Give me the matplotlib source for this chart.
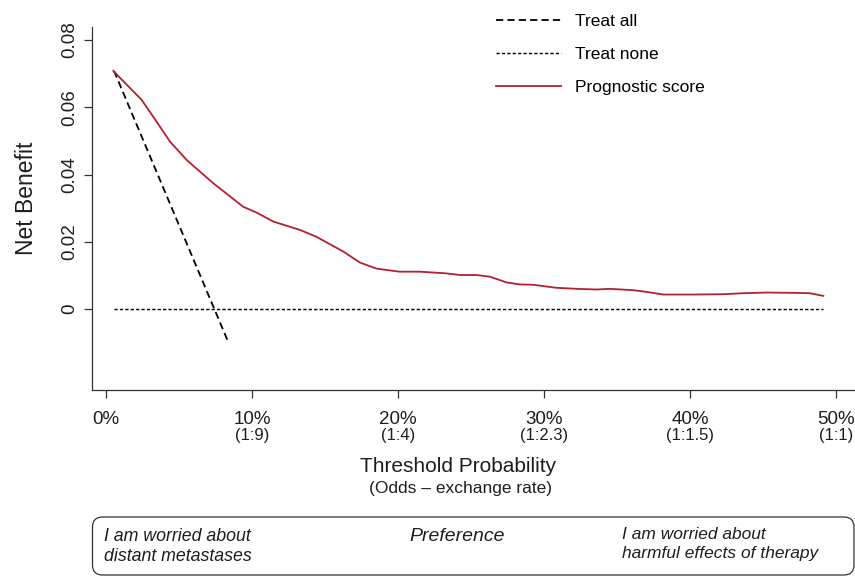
import matplotlib
matplotlib.use("Agg")
import matplotlib.pyplot as plt
from matplotlib.patches import FancyBboxPatch
from matplotlib.transforms import blended_transform_factory

# ---------------- data ----------------
score_threshold = [0.005, 0.0244, 0.0347, 0.0438, 0.0553, 0.0735, 0.094, 0.103, 0.1146,
                   0.133, 0.144, 0.1625, 0.174, 0.1854, 0.201, 0.215, 0.233, 0.2425,
                   0.254, 0.263, 0.2744, 0.2836, 0.2927, 0.3086, 0.3224, 0.336, 0.345,
                   0.361, 0.370, 0.3817, 0.402, 0.4228, 0.4365, 0.4525, 0.4707, 0.482, 0.4913]
score_nb = [0.0708, 0.0622, 0.0557, 0.0498, 0.0443, 0.0374, 0.0304, 0.0287, 0.0260,
            0.0235, 0.0215, 0.0171, 0.0138, 0.0120, 0.0111, 0.0111, 0.0106, 0.0101,
            0.0101, 0.0096, 0.0079, 0.0073, 0.0072, 0.0063, 0.0060, 0.0058, 0.0060,
            0.0056, 0.0051, 0.0043, 0.0043, 0.0044, 0.0047, 0.0049, 0.0048, 0.0047, 0.0039]
all_threshold = [0.0055, 0.084]
all_nb = [0.0708, -0.0101]
none_threshold = [0.0055, 0.491]
none_nb = [0.0, 0.0]

x_ticks = [0.0, 0.1, 0.2, 0.3, 0.4, 0.5]
x_tick_labels = ["0%", "10%", "20%", "30%", "40%", "50%"]
odds_labels = ["", "(1:9)", "(1:4)", "(1:2.3)", "(1:1.5)", "(1:1)"]
y_ticks = [0.0, 0.02, 0.04, 0.06, 0.08]
y_tick_labels = ["0", "0.02", "0.04", "0.06", "0.08"]
legend_labels = ["Treat all", "Treat none", "Prognostic score"]

# ---------------- figure ----------------
plt.rcParams['font.family'] = ['Liberation Sans', 'DejaVu Sans']
W, H, DPI = 855, 576, 100
fig = plt.figure(figsize=(W / DPI, H / DPI), dpi=DPI)

def fx(px):
    return px / W

def fy(py):
    return 1 - py / H

ax = fig.add_axes([fx(92), fy(390), (855 - 92) / W, (390 - 27) / H])
ax.set_xlim(-0.00959, 0.513)
ax.set_ylim(-0.02409, 0.08387)

red = "#B3202E"
ink = "#1e1e1e"
l_all, = ax.plot(all_threshold, all_nb, color="black", lw=1.3, dashes=(4.0, 2.3))
l_none, = ax.plot(none_threshold, none_nb, color="black", lw=1.05, dashes=(2.2, 1.5))
l_score, = ax.plot(score_threshold, score_nb, color=red, lw=1.3)

for s in ("top", "right"):
    ax.spines[s].set_visible(False)
for s in ("left", "bottom"):
    ax.spines[s].set_color("#333333")
    ax.spines[s].set_linewidth(0.9)

ax.set_xticks(x_ticks)
ax.set_xticklabels(x_tick_labels, fontsize=13.5, color=ink)
ax.set_yticks(y_ticks)
ax.set_yticklabels(y_tick_labels, fontsize=13.5, color=ink, rotation=90, va="center")
ax.tick_params(axis="both", direction="out", length=6, width=0.9, color="#333333")
ax.tick_params(axis="x", pad=9.4)
ax.tick_params(axis="y", pad=3.6)

trans = blended_transform_factory(ax.transData, fig.transFigure)
for xv, lab in zip(x_ticks, odds_labels):
    if lab:
        ax.text(xv, fy(440), lab, transform=trans, ha="center", va="baseline",
                fontsize=12, color=ink)

ax.set_xlabel("Threshold Probability", fontsize=15, color=ink)
ax.xaxis.label.set_va("baseline")
ax.xaxis.set_label_coords((458 - 92) / 763, (390 - 472) / 363)
fig.text(fx(460), fy(493), "(Odds \u2013 exchange rate)", ha="center", va="baseline",
         fontsize=12.5, color=ink)

ax.set_ylabel("Net Benefit", fontsize=16.5, color=ink)
ax.yaxis.label.set_va("baseline")
ax.yaxis.set_label_coords((33 - 92) / 763, (390 - 198) / 363)

ax.legend([l_all, l_none, l_score], legend_labels, loc="upper left",
          bbox_to_anchor=(fx(496), fy(14)), bbox_transform=fig.transFigure,
          frameon=False, borderpad=0, borderaxespad=0, handlelength=3.74,
          handletextpad=0.8, labelspacing=1.03, fontsize=12.5)

# ---------------- preference box ----------------
box = FancyBboxPatch((92.5 / DPI, (H - 575) / DPI), (854 - 92.5) / DPI, (575 - 517) / DPI,
                     boxstyle="round,pad=0,rounding_size=0.1",
                     transform=fig.dpi_scale_trans, fill=False,
                     edgecolor="#333333", linewidth=0.9, clip_on=False)
fig.add_artist(box)

fig.text(fx(104), fy(541), "I am worried about", style="italic", fontsize=12.8,
         ha="left", va="baseline", color=ink)
fig.text(fx(104), fy(561), "distant metastases", style="italic", fontsize=12.8,
         ha="left", va="baseline", color=ink)
fig.text(fx(457), fy(541), "Preference", style="italic", fontsize=14,
         ha="center", va="baseline", color=ink)
fig.text(fx(622), fy(539), "I am worried about", style="italic", fontsize=12.5,
         ha="left", va="baseline", color=ink)
fig.text(fx(622), fy(558), "harmful effects of therapy", style="italic", fontsize=12.5,
         ha="left", va="baseline", color=ink)

fig.savefig("out.png", dpi=DPI)
